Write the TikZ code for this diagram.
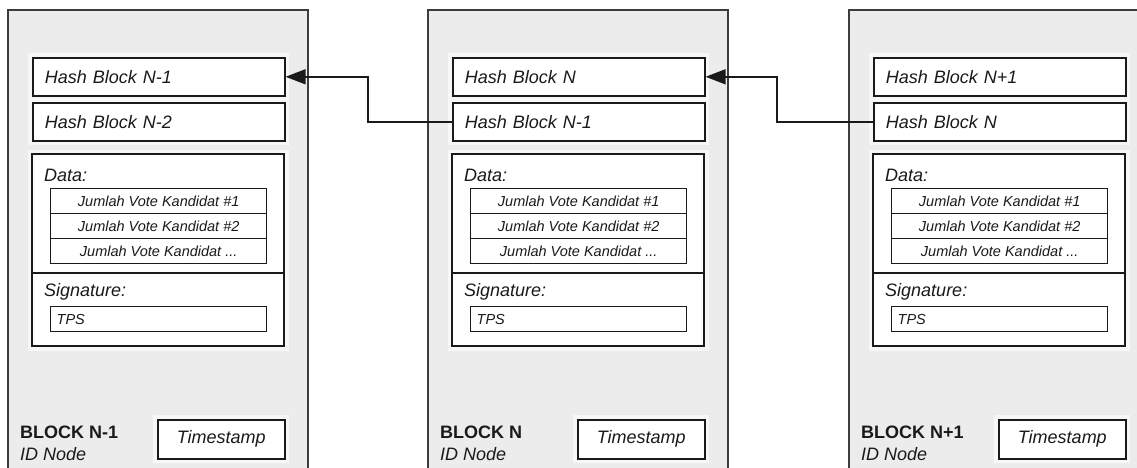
\documentclass[tikz,border=0pt]{standalone}
\usepackage{fontspec}
\setmainfont{Liberation Sans}
\usetikzlibrary{arrows.meta}
\definecolor{blockgray}{HTML}{ECECEC}
\definecolor{ink}{HTML}{1A1A1A}
\tikzset{
  outerbox/.style={draw=ink!85, fill=blockgray, line width=1.3pt},
  halo/.style={preaction={draw=white!60!blockgray, line width=9pt}},
  innerbox/.style={draw=ink, fill=white, line width=1.6pt, halo},
  hashbox/.style={innerbox, anchor=north west, minimum height=38pt,
    text width=228pt, inner xsep=12pt, inner ysep=0pt, align=left,
    font=\itshape\fontsize{18}{20}\selectfont, text=ink},
  rowbox/.style={draw=ink, fill=white, line width=1.4pt, anchor=north west,
    minimum width=216pt, minimum height=25pt, inner sep=0pt,
    font=\itshape\fontsize{14.5}{16}\selectfont, text=ink},
  tpsbox/.style={rowbox, text width=204pt, inner xsep=6pt, align=left},
  lbl/.style={anchor=west, inner sep=0pt, text=ink},
  stampbox/.style={innerbox, anchor=north west, minimum width=127pt,
    minimum height=39pt, inner sep=0pt, font=\itshape\fontsize{18}{20}\selectfont, text=ink},
  conn/.style={draw=ink, line width=1.5pt, -{Triangle[length=20pt,width=15pt]}}
}
\newcommand{\chainblock}[6]{%
  % #1 prefix, #2 x offset, #3 hash1, #4 hash2, #5 block name
  \begin{scope}[xshift=#2pt]
    \path[outerbox] (8,10) rectangle (308,490);
    \node[hashbox] (#1-h1) at (32,57) {#3};
    \node[hashbox] (#1-h2) at (32,102) {#4};
    \path[innerbox] (32,154) rectangle (284,346);
    \draw[ink, line width=1.6pt] (32,273) -- (284,273);
    \node[lbl, font=\itshape\fontsize{18}{20}\selectfont] (#1-data) at (44,175) {Data:};
    \node[rowbox] (#1-r1) at (50,188) {Jumlah Vote Kandidat \#1};
    \node[rowbox] (#1-r2) at (50,213) {Jumlah Vote Kandidat \#2};
    \node[rowbox] (#1-r3) at (50,238) {Jumlah Vote Kandidat ...};
    \node[lbl, font=\itshape\fontsize{18}{20}\selectfont] (#1-sig) at (44,292) {Signature:};
    \node[tpsbox] (#1-tps) at (50,306) {TPS};
    \node[lbl, font=\bfseries\fontsize{18}{20}\selectfont] (#1-name) at (20,432) {#5};
    \node[lbl, font=\itshape\fontsize{18}{20}\selectfont] (#1-id) at (20,454) {ID Node};
    \node[stampbox] (#1-ts) at (157,419) {Timestamp};
  \end{scope}}
\begin{document}
\begin{tikzpicture}[x=1pt,y=-1pt]
  \useasboundingbox (0,0) rectangle (1137,468);
  \clip (0,0) rectangle (1137,468);
  \fill[white] (0,0) rectangle (1137,468);
  \chainblock{l}{0}{Hash Block N-1}{Hash Block N-2}{BLOCK N-1}{}
  \chainblock{m}{420}{Hash Block N}{Hash Block N-1}{BLOCK N}{}
  \chainblock{r}{841}{Hash Block N+1}{Hash Block N}{BLOCK N+1}{}
  \draw[conn] (m-h2.west) -- ++(-84,0) |- (l-h1.east);
  \draw[conn] (r-h2.west) -- ++(-96,0) |- (m-h1.east);
\end{tikzpicture}
\end{document}
